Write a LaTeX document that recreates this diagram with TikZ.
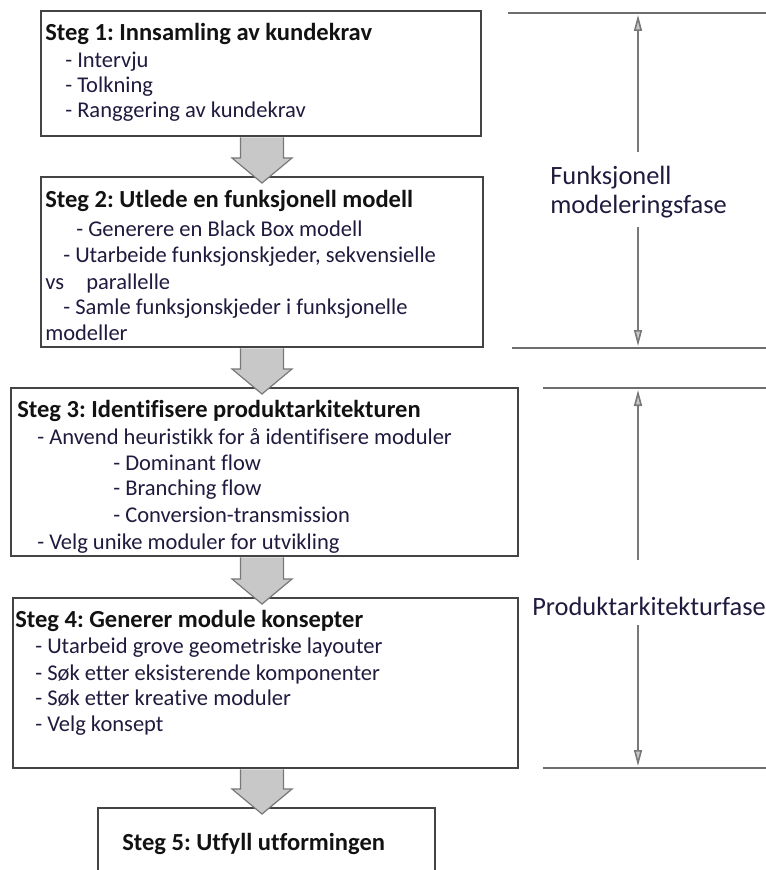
\documentclass[tikz,border=0pt]{standalone}
\usepackage{fontspec}
\setmainfont{Carlito}[Ligatures=NoCommon]
\usetikzlibrary{arrows.meta,calc}
\frenchspacing

\definecolor{boxline}{RGB}{68,68,68}
\definecolor{arrowfill}{RGB}{200,200,200}
\definecolor{arrowline}{RGB}{120,120,120}
\definecolor{itemtext}{RGB}{32,26,62}
\definecolor{titletext}{RGB}{18,18,18}
\definecolor{phaseline}{RGB}{110,110,110}

% block arrow from the bottom of one step box to the top of the next
\newcommand\stepflow[2]{%
  \draw[blockarrow]
    ($(#1.south -| ax)+(-21.5,0)$) -- ($(#2.north -| ax)+(-21.5,-18)$)
    -- ($(#2.north -| ax)+(-30,-18)$) -- ($(#2.north -| ax)+(0,7)$)
    -- ($(#2.north -| ax)+(30,-18)$) -- ($(#2.north -| ax)+(21.5,-18)$)
    -- ($(#1.south -| ax)+(21.5,0)$);}

\begin{document}
\begin{tikzpicture}[x=0.75pt,y=-0.75pt,
  stepbox/.style={draw=boxline,line width=1.7pt,fill=white,rectangle,anchor=north west,inner sep=0pt},
  title/.style={anchor=base west,inner sep=0pt,font=\fontsize{18.4}{22}\selectfont\bfseries,text=titletext},
  item/.style={anchor=base west,inner sep=0pt,font=\fontsize{16.9}{20}\selectfont,text=itemtext},
  phase/.style={anchor=base west,inner sep=0pt,font=\fontsize{19.8}{24}\selectfont,text=itemtext},
  blockarrow/.style={fill=arrowfill,draw=arrowline,line width=0.9pt,line join=miter},
  divider/.style={draw=phaseline,line width=1.2pt},
  sidearrow/.style={draw=arrowline,line width=1.2pt,-{Triangle[length=12pt,width=6pt,fill=arrowfill]}}]

\path[use as bounding box] (0,0) rectangle (766,870);
\clip (0,0) rectangle (766,870);

\coordinate (ax) at (262,0);

% step boxes
\node[stepbox,minimum width=330pt,minimum height=93.75pt] (b1) at (40,10) {};
\node[stepbox,minimum width=331.5pt,minimum height=127.5pt] (b2) at (40,176) {};
\node[stepbox,minimum width=380.25pt,minimum height=126pt] (b3) at (10,387) {};
\node[stepbox,minimum width=378.75pt,minimum height=127.5pt] (b4) at (12,597) {};
\node[stepbox,minimum width=252.75pt,minimum height=75pt] (b5) at (97,807) {};

% flow arrows
\stepflow{b1}{b2}
\stepflow{b2}{b3}
\stepflow{b3}{b4}
\stepflow{b4}{b5}

% step 1
\node[title] (t1) at (45,41) {Steg 1: Innsamling av kundekrav};
\node[item] (t1a) at (65,68) {- Intervju};
\node[item] (t1b) at (65,93) {- Tolkning};
\node[item] (t1c) at (65,118) {- Ranggering av kundekrav};

% step 2
\node[title] (t2) at (45,207) {Steg 2: Utlede en funksjonell modell};
\node[item] (t2a) at (76,236) {- Generere en Black Box modell};
\node[item] (t2b) at (63,262) {- Utarbeide funksjonskjeder, sekvensielle};
\node[item] (t2c) at (45,289) {\makebox[30.75pt][l]{vs}parallelle};
\node[item] (t2d) at (63,314) {- Samle funksjonskjeder i funksjonelle};
\node[item] (t2e) at (45,340) {modeller};

% step 3
\node[title] (t3) at (17,417) {Steg 3: Identifisere produktarkitekturen};
\node[item] (t3a) at (37,444) {- Anvend heuristikk for å identifisere moduler};
\node[item] (t3b) at (113,470) {- Dominant flow};
\node[item] (t3c) at (113,495) {- Branching flow};
\node[item] (t3d) at (113,522) {- Conversion-transmission};
\node[item] (t3e) at (37,549) {- Velg unike moduler for utvikling};

% step 4
\node[title] (t4) at (15,627) {Steg 4: Generer module konsepter};
\node[item] (t4a) at (35,653) {- Utarbeid grove geometriske layouter};
\node[item] (t4b) at (35,680) {- Søk etter eksisterende komponenter};
\node[item] (t4c) at (35,705) {- Søk etter kreative moduler};
\node[item] (t4d) at (35,731) {- Velg konsept};

% step 5
\node[title] (t5) at (122,850) {Steg 5: Utfyll utformingen};

% phase dividers
\coordinate (d1w) at (508,13);  \coordinate (d1e) at (768,13);
\coordinate (d2w) at (512,348); \coordinate (d2e) at (768,348);
\coordinate (d3w) at (543,388); \coordinate (d3e) at (768,388);
\coordinate (d4w) at (543,768); \coordinate (d4e) at (768,768);
\draw[divider] (d1w) -- (d1e);
\draw[divider] (d2w) -- (d2e);
\draw[divider] (d3w) -- (d3e);
\draw[divider] (d4w) -- (d4e);

% phase labels
\node[phase] (p1a) at (550,185) {Funksjonell};
\node[phase] (p1b) at (550,213) {modeleringsfase};
\node[phase] (p2) at (532,615) {Produktarkitekturfase};

% phase span arrows
\coordinate (s1a) at (638,152); \coordinate (s1b) at (638,15);
\coordinate (s2a) at (638,227); \coordinate (s2b) at (638,346);
\coordinate (s3a) at (638,560); \coordinate (s3b) at (638,390);
\coordinate (s4a) at (638,625); \coordinate (s4b) at (638,766);
\draw[sidearrow] (s1a) -- (s1b);
\draw[sidearrow] (s2a) -- (s2b);
\draw[sidearrow] (s3a) -- (s3b);
\draw[sidearrow] (s4a) -- (s4b);
\end{tikzpicture}
\end{document}
